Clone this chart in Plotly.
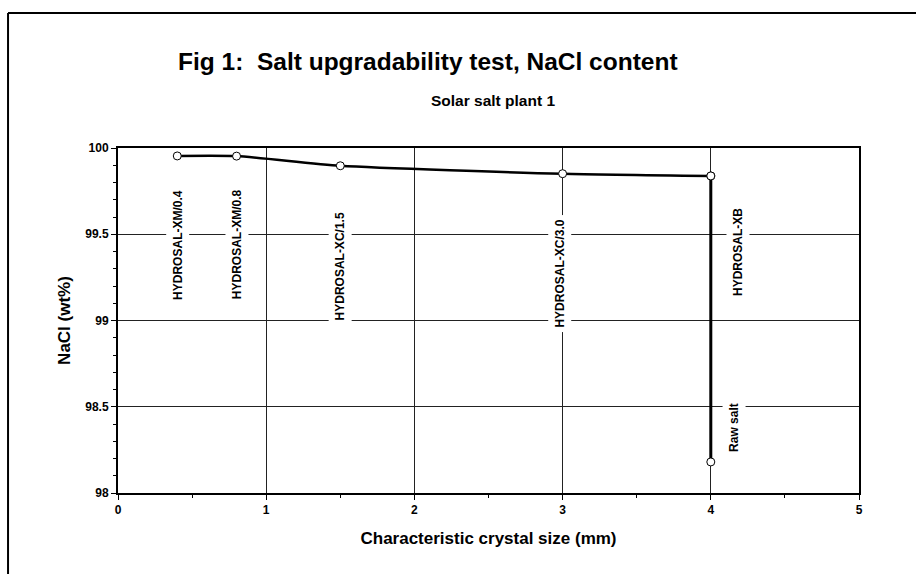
import plotly.graph_objects as go

# Data
size_mm = [0.4, 0.8, 1.5, 3.0, 4.0]
nacl_pct = [99.954, 99.953, 99.897, 99.851, 99.838]
raw_x = [4.0, 4.0]
raw_y = [99.838, 98.18]

label_text = ["HYDROSAL-XM/0.4", "HYDROSAL-XM/0.8", "HYDROSAL-XC/1.5",
              "HYDROSAL-XC/3.0", "HYDROSAL-XB", "Raw salt"]
label_x = [0.4, 0.8, 1.5, 2.98, 4.18, 4.16]
label_y = [99.44, 99.44, 99.315, 99.27, 99.40, 98.38]

FONT = "Liberation Sans, Arial, sans-serif"

fig = go.Figure()

# vertical drop to raw salt
fig.add_trace(go.Scatter(
    x=raw_x, y=raw_y, mode="lines+markers",
    line=dict(color="black", width=3),
    marker=dict(size=8, color="white", line=dict(color="black", width=1)),
    showlegend=False, hoverinfo="x+y"))

fig.add_trace(go.Scatter(
    x=size_mm, y=nacl_pct, mode="lines+markers",
    line=dict(color="black", width=2.5, shape="spline", smoothing=0.6),
    marker=dict(size=8, color="white", line=dict(color="black", width=1)),
    showlegend=False, hoverinfo="x+y"))

annotations = []
for t, x, y in zip(label_text, label_x, label_y):
    annotations.append(dict(
        x=x, y=y, xref="x", yref="y", text="<b>" + t + "</b>", showarrow=False,
        textangle=-90, bgcolor="white", borderpad=4,
        font=dict(family=FONT, size=12, color="black")))

annotations.append(dict(
    x=0.4185, y=1.252, xref="paper", yref="paper",
    text="<b>Fig 1:  Salt upgradability test, NaCl content</b>",
    showarrow=False, font=dict(family=FONT, size=24.5, color="black"),
    xanchor="center", yanchor="middle"))
annotations.append(dict(
    x=0.506, y=1.137, xref="paper", yref="paper",
    text="<b>Solar salt plant 1</b>",
    showarrow=False, font=dict(family=FONT, size=15.5, color="black"),
    xanchor="center", yanchor="middle"))

# outer border (top and left edges only visible)
shapes = [
    dict(type="line", xref="paper", yref="paper",
         x0=-0.1484, y0=-0.3, x1=-0.1484, y1=1.3913,
         line=dict(color="black", width=2)),
    dict(type="line", xref="paper", yref="paper",
         x0=-0.1484, y0=1.3913, x1=1.2, y1=1.3913,
         line=dict(color="black", width=2)),
]

fig.update_layout(
    width=916, height=574,
    margin=dict(l=118, r=57, t=148, b=81),
    paper_bgcolor="white", plot_bgcolor="white",
    font=dict(family=FONT, color="black"),
    annotations=annotations, shapes=shapes,
    xaxis=dict(
        range=[0, 5], dtick=1, tick0=0,
        showgrid=True, gridcolor="#222", gridwidth=1,
        showline=True, linecolor="black", linewidth=2, mirror=True,
        ticks="outside", ticklen=5, tickcolor="black", tickwidth=1,
        minor=dict(dtick=0.5, ticks="outside", ticklen=3, tickcolor="black", showgrid=False),
        tickfont=dict(family=FONT, size=12, color="black", weight="bold"),
        title=dict(text="<b>Characteristic crystal size (mm)</b>",
                   font=dict(family=FONT, size=17, color="black"), standoff=16),
        zeroline=False,
    ),
    yaxis=dict(
        range=[98, 100], dtick=0.5, tick0=98,
        showgrid=True, gridcolor="#222", gridwidth=1,
        showline=True, linecolor="black", linewidth=2, mirror=True,
        ticks="outside", ticklen=5, tickcolor="black", tickwidth=1,
        minor=dict(dtick=0.1, ticks="outside", ticklen=3, tickcolor="black", showgrid=False),
        tickfont=dict(family=FONT, size=12, color="black", weight="bold"),
        title=dict(text="<b>NaCl (wt%)</b>",
                   font=dict(family=FONT, size=17, color="black"), standoff=10),
        zeroline=False,
    ),
)

fig.write_html("out.html", config={"displayModeBar": False},
               post_script="document.body.style.margin='0';")
